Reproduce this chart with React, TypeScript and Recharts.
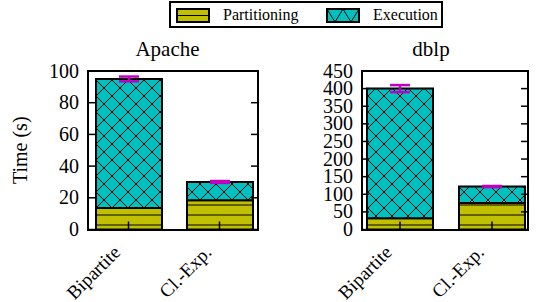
import { BarChart, Bar, XAxis, YAxis, ErrorBar, Legend } from 'recharts';

const categories = ['Bipartite', 'Cl.-Exp.'];
const seriesNames = ['Partitioning', 'Execution'];

const apachePartitioning = [13.5, 18.5];
const apacheExecution = [81.5, 11.5];
const apacheError = [1.5, 0.6];
const apacheTicks = [0, 20, 40, 60, 80, 100];

const dblpPartitioning = [32, 75];
const dblpExecution = [368, 47];
const dblpError = [10, 1.5];
const dblpTicks = [0, 50, 100, 150, 200, 250, 300, 350, 400, 450];

const OLIVE = '#c0c000';
const CYAN = '#00c0c0';
const MAGENTA = '#c000c0';
const FONT = '"Liberation Serif", serif';
const W = 542;
const H = 302;

const toRows = (part: number[], exec: number[], err: number[]) =>
  categories.map((name, i) => ({ name, part: part[i], exec: exec[i], err: err[i] }));

const XTick = (props: any) => {
  const { x, y, payload } = props;
  const ax = x - 7;
  const ay = y + 24;
  return (
    <g>
      <line x1={x} x2={x} y1={y} y2={y - 8} stroke="#000" strokeWidth={1.5} />
      <text x={ax} y={ay} transform={`rotate(-45, ${ax}, ${ay})`} textAnchor="end" fill="#000"
        style={{ fontFamily: FONT, fontSize: 19 }}>
        {payload.value}
      </text>
    </g>
  );
};

const YTick = (props: any) => {
  const { x, y, payload, right } = props;
  const ax = x + 9;
  return (
    <g>
      <line x1={ax} x2={ax + 7} y1={y} y2={y} stroke="#000" strokeWidth={1.5} />
      <line x1={right} x2={right - 7} y1={y} y2={y} stroke="#000" strokeWidth={1.5} />
      <text x={x} y={y} dy="0.33em" textAnchor="end" fill="#000" style={{ fontFamily: FONT, fontSize: 20 }}>
        {payload.value}
      </text>
    </g>
  );
};

const LegendBox = () => (
  <div style={{ position: 'relative', width: 274, height: 27, boxSizing: 'border-box', border: '2px solid #000', background: '#fff', fontFamily: FONT, fontSize: 16, color: '#000' }}>
    {seriesNames.map((name, i) => (
      <div key={name} style={{ position: 'absolute', left: i === 0 ? 5 : 155, top: 3, height: 18, display: 'flex', alignItems: 'center' }}>
        <svg width={34} height={15} style={{ display: 'block' }}>
          {i === 0 ? (
            <>
              <rect x={1} y={1} width={32} height={13} fill={OLIVE} stroke="#000" strokeWidth={2} />
              <line x1={1} x2={33} y1={7.5} y2={7.5} stroke="#000" strokeWidth={1} />
            </>
          ) : (
            <>
              <rect x={1} y={1} width={32} height={13} fill={CYAN} stroke="#000" strokeWidth={2} />
              <polyline points="1,1 9,14 17,1 25,14 33,1" fill="none" stroke="#000" strokeWidth={1} />
            </>
          )}
        </svg>
        <span style={{ marginLeft: 13, lineHeight: '18px' }}>{name}</span>
      </div>
    ))}
  </div>
);

type Frame = { l: number; r: number; t: number; b: number };

function Panel({ title, titleX, rows, ticks, frame, pad, yLabel, legend }: {
  title: string; titleX: number; rows: any[]; ticks: number[]; frame: Frame;
  pad: { left: number; right: number }; yLabel?: string; legend?: boolean;
}) {
  const { l, r, t, b } = frame;
  const yw = yLabel ? 70 : 40;
  return (
    <div style={{ position: 'absolute', left: 0, top: 0, width: W, height: H }}>
      <BarChart width={W} height={H} data={rows} barSize={66}
        margin={{ left: l - yw, right: W - r, top: t, bottom: H - b - 60 }}>
        <XAxis dataKey="name" height={60} axisLine={false} tickLine={false} tickSize={0} tickMargin={0}
          interval={0} padding={pad} tick={<XTick />} />
        <YAxis width={yw} type="number" domain={[0, ticks[ticks.length - 1]]} ticks={ticks} interval={0}
          allowDataOverflow axisLine={false} tickLine={false} tickSize={0} tickMargin={9}
          tick={<YTick right={r} />}
          label={yLabel ? { value: yLabel, angle: -90, position: 'insideLeft', offset: 2, fill: '#000', style: { textAnchor: 'middle', fontFamily: FONT, fontSize: 20 } } : undefined} />
        {legend && (
          <Legend verticalAlign="middle" align="center" content={<LegendBox />}
            wrapperStyle={{ left: 169, top: 1, width: 274, height: 27 }} />
        )}
        <Bar dataKey="part" name={seriesNames[0]} stackId="s" fill="url(#hpat)" stroke="#000" strokeWidth={2} isAnimationActive={false} />
        <Bar dataKey="exec" name={seriesNames[1]} stackId="s" fill="url(#xpat)" stroke="#000" strokeWidth={2} isAnimationActive={false}>
          <ErrorBar dataKey="err" direction="y" width={10} stroke={MAGENTA} strokeWidth={2.5} isAnimationActive={false} />
        </Bar>
      </BarChart>
      <div style={{ position: 'absolute', left: l - 1, top: t - 1, width: r - l + 2, height: b - t + 2, boxSizing: 'border-box', border: '2px solid #000', pointerEvents: 'none' }} />
      <div style={{ position: 'absolute', left: titleX - 100, top: 39, width: 200, textAlign: 'center', fontFamily: FONT, fontSize: 21, lineHeight: '21px', color: '#000' }}>
        {title}
      </div>
    </div>
  );
}

export default function App() {
  return (
    <div style={{ position: 'absolute', left: 0, top: 0, width: W, height: H, background: '#fff', overflow: 'hidden', fontFamily: FONT }}>
      <svg width={0} height={0} style={{ position: 'absolute' }}>
        <defs>
          <pattern id="hpat" patternUnits="userSpaceOnUse" width={10} height={10}>
            <rect width={10} height={10} fill={OLIVE} />
            <line x1={0} x2={10} y1={5} y2={5} stroke="#000" strokeWidth={1} />
          </pattern>
          <pattern id="xpat" patternUnits="userSpaceOnUse" width={16} height={16}>
            <rect width={16} height={16} fill={CYAN} />
            <line x1={0} y1={0} x2={16} y2={16} stroke="#000" strokeWidth={1} />
            <line x1={0} y1={16} x2={16} y2={0} stroke="#000" strokeWidth={1} />
          </pattern>
        </defs>
      </svg>
      <Panel title="Apache" titleX={167.5} rows={toRows(apachePartitioning, apacheExecution, apacheError)}
        ticks={apacheTicks} frame={{ l: 88, r: 258, t: 71, b: 229.5 }} pad={{ left: -5, right: -7 }}
        yLabel="Time (s)" legend />
      <Panel title="dblp" titleX={431} rows={toRows(dblpPartitioning, dblpExecution, dblpError)}
        ticks={dblpTicks} frame={{ l: 362, r: 528, t: 71, b: 229.5 }} pad={{ left: -8, right: -10 }} />
    </div>
  );
}
